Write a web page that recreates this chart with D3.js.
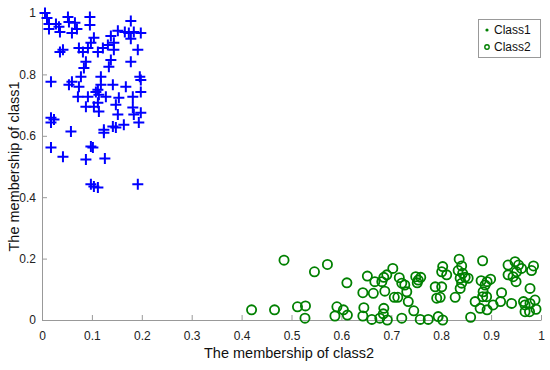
<!DOCTYPE html>
<html><head><meta charset="utf-8">
<script src="https://cdn.jsdelivr.net/npm/d3@7"></script>
<style>body{margin:0;background:#fff}svg{display:block}text{font-family:"Liberation Sans",Arial,sans-serif}</style>
</head><body><div id="chart"></div>
<script>
const seriesNames = ["Class1", "Class2"];
const xTicks = [0,0.1,0.2,0.3,0.4,0.5,0.6,0.7,0.8,0.9,1];
const yTicks = [0,0.2,0.4,0.6,0.8,1];
const xLabel = "The membership of class2";
const yLabel = "The membership of class1";
// Class1: [membership of class2, membership of class1]
const class1X = [.006,.010,.014,.014,.028,.034,.036,.052,.054,.066,.070,.060,.096,.096,.178,.152,.166,.174,.184,.198,.178,.138,.144,.132,.122,.144,.192,.104,.098,.092,.074,.082,.112,.036,.042,.088,.138,.178,.084,.134,.018,.054,.060,.078,.074,.072,.092,.118,.118,.142,.168,.196,.198,.198,.112,.114,.128,.154,.182,.088,.112,.108,.148,.152,.182,.198,.184,.194,.018,.018,.024,.058,.124,.124,.142,.148,.164,.018,.042,.088,.098,.102,.126,.098,.104,.112,.192,.104,.114];
const class1Y = [1.0,.984,.964,.948,.964,.955,.938,.987,.971,.968,.948,.935,.987,.961,.974,.942,.938,.935,.938,.935,.916,.925,.903,.896,.886,.880,.880,.919,.903,.886,.886,.873,.873,.873,.880,.841,.847,.841,.821,.825,.776,.766,.776,.792,.760,.727,.727,.792,.766,.766,.760,.792,.782,.743,.750,.734,.727,.724,.727,.695,.708,.743,.701,.669,.692,.675,.669,.643,.659,.643,.653,.614,.620,.610,.630,.627,.636,.562,.532,.523,.565,.562,.526,.442,.435,.432,.442,.695,.679];
const class2X = [.420,.466,.485,.512,.528,.527,.546,.572,.591,.587,.604,.612,.611,.643,.645,.643,.661,.652,.667,.664,.677,.685,.684,.692,.681,.685,.691,.703,.687,.706,.713,.716,.721,.731,.734,.721,.727,.745,.758,.774,.794,.803,.749,.754,.759,.752,.788,.801,.791,.798,.803,.801,.811,.828,.836,.841,.834,.843,.838,.848,.854,.841,.838,.883,.880,.888,.892,.899,.884,.883,.891,.868,.878,.892,.859,.904,.921,.919,.941,.934,.948,.955,.961,.934,.944,.951,.950,.978,.985,.981,.965,.968,.978,.988,.990,.968,.977];
const class2Y = [.033,.033,.195,.043,.046,.006,.157,.181,.043,.013,.033,.016,.121,.089,.040,.013,.002,.143,.125,.087,.006,.038,.020,.000,.125,.139,.147,.168,.094,.074,.074,.138,.120,.092,.060,.006,.114,.030,.002,.002,.011,.000,.141,.130,.139,.121,.108,.108,.071,.074,.174,.157,.147,.074,.198,.176,.161,.152,.136,.139,.136,.120,.103,.193,.128,.114,.125,.133,.092,.076,.076,.060,.038,.033,.009,.049,.089,.060,.054,.179,.190,.179,.168,.147,.141,.157,.125,.103,.176,.161,.060,.049,.054,.065,.035,.027,.027];

const W = 550, H = 370;
const svg = d3.select("#chart").append("svg").attr("width", W).attr("height", H);
const x = d3.scaleLinear().domain([0,1]).range([42,541]);
const y = d3.scaleLinear().domain([0,1]).range([320,13]);
const axisColor = "#999";

const gx = svg.append("g").attr("transform", `translate(0,${y(0)})`)
  .call(d3.axisBottom(x).tickValues(xTicks).tickFormat(d3.format("~g")).tickSizeInner(-5).tickSizeOuter(0).tickPadding(11));
const gy = svg.append("g").attr("transform", `translate(${x(0)},0)`)
  .call(d3.axisLeft(y).tickValues(yTicks).tickFormat(d3.format("~g")).tickSizeInner(-5).tickSizeOuter(0).tickPadding(6));
[gx, gy].forEach(g => {
  g.select(".domain").attr("stroke", axisColor);
  g.selectAll(".tick line").attr("stroke", axisColor);
  g.selectAll(".tick text").attr("fill", "#222").style("font-size", "12px").style("font-family", "Liberation Sans, Arial, sans-serif");
});

svg.append("text").attr("x", 289).attr("y", 358).attr("text-anchor", "middle")
  .style("font-size", "14.5px").attr("fill", "#111").text(xLabel);
svg.append("text").attr("transform", `translate(19,${(y(0)+y(1))/2}) rotate(-90)`).attr("text-anchor", "middle")
  .style("font-size", "14.5px").attr("fill", "#111").text(yLabel);

const blue = "#0000ff", green = "#008000";
const c1 = class1X.map((v,i) => [v, class1Y[i]]);
const c2 = class2X.map((v,i) => [v, class2Y[i]]);
const plus = "M-5.5,0H5.5M0,-5.5V5.5";
svg.append("g").selectAll("path").data(c1).join("path")
  .attr("transform", d => `translate(${x(d[0])},${y(d[1])})`)
  .attr("d", plus).attr("stroke", blue).attr("stroke-width", 2).attr("fill", "none");
svg.append("g").selectAll("circle").data(c2).join("circle")
  .attr("cx", d => x(d[0])).attr("cy", d => y(d[1])).attr("r", 4.6)
  .attr("stroke", green).attr("stroke-width", 1.8).attr("fill", "none");

// legend
const lg = svg.append("g");
lg.append("rect").attr("x", 478.5).attr("y", 19.5).attr("width", 62).attr("height", 38)
  .attr("fill", "#fff").attr("stroke", "#999");
lg.append("circle").attr("cx", 487).attr("cy", 30).attr("r", 1.6).attr("fill", green);
lg.append("circle").attr("cx", 487).attr("cy", 47).attr("r", 2.2).attr("fill", "none").attr("stroke", green).attr("stroke-width", 1.4);
seriesNames.forEach((n,i) => {
  lg.append("text").attr("x", 494).attr("y", 34 + i*17).style("font-size", "12px").attr("fill", "#111").text(n);
});
</script></body></html>
